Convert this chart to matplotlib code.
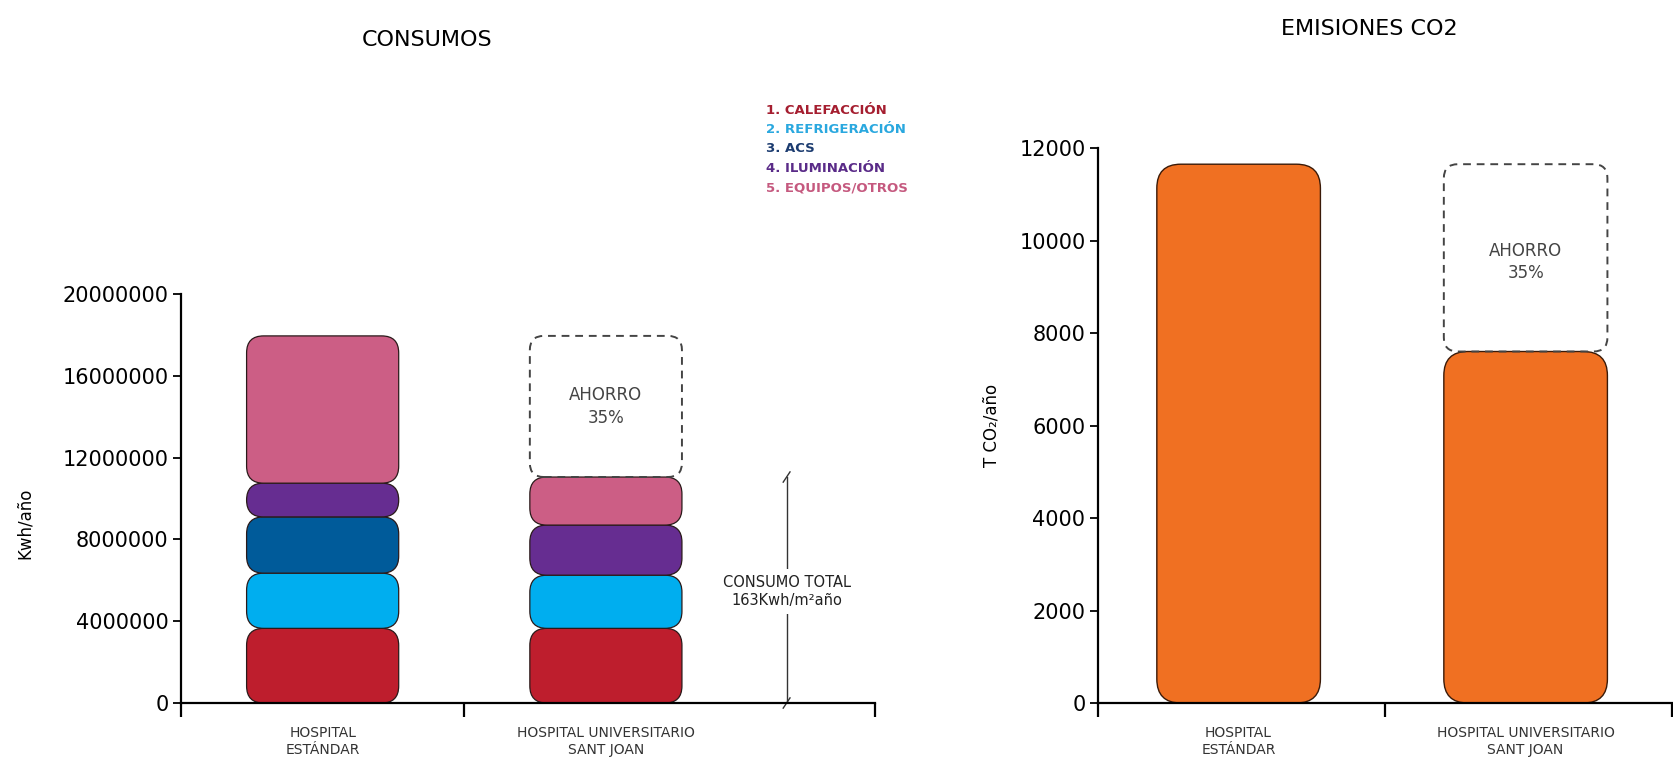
import numpy as np
import matplotlib
matplotlib.use("Agg")
import matplotlib.pyplot as plt
from matplotlib.patches import FancyBboxPatch
from matplotlib.ticker import FuncFormatter

plt.rcParams['font.family'] = ['DejaVu Sans']

# consumos (kWh/año) por uso
hospitales = ["HOSPITAL\nESTÁNDAR", "HOSPITAL UNIVERSITARIO\nSANT JOAN"]
usos = ["1. CALEFACCIÓN", "2. REFRIGERACIÓN", "3. ACS", "4. ILUMINACIÓN", "5. EQUIPOS/OTROS"]
calefaccion = [3650000, 3650000]
refrigeracion = [2700000, 2600000]
acs = [2750000, 0]
iluminacion = [1650000, 2450000]
equipos = [7200000, 2350000]

# emisiones (T CO2/año)
emisiones = [11650, 7600]
ahorro = "AHORRO\n35%"
consumo_total = "CONSUMO TOTAL\n163Kwh/m²año"

colores = ["#BE1E2D", "#00AEEF", "#005B9A", "#662D91", "#CC5E85"]
colores_txt = ["#A51E30", "#2AA8DF", "#1C3C70", "#5A2B88", "#C5597F"]
naranja = "#F07022"

W, H = 1673, 761
fig = plt.figure(figsize=(W / 100, H / 100), dpi=100)
ax1 = fig.add_axes([0.1082, 0.0762, 0.4148, 0.5375])
ax2 = fig.add_axes([0.6563, 0.0762, 0.3431, 0.7293])

ax1.set_xlim(0, 2.45)
ax1.set_ylim(0, 20000000)
ax2.set_xlim(0, 2.0)
ax2.set_ylim(0, 12000)


def redondear(ax, bars, radio_px, dashed=False, **kw):
    # swap the plain rectangles for rounded ones, radius given in pixels
    (x0, y0), (x1, y1) = ax.transData.transform([(0, 0), (1, 1)])
    sx, sy = x1 - x0, y1 - y0
    for rect in bars:
        w, h = rect.get_width(), rect.get_height()
        if h <= 0:
            rect.remove()
            continue
        r_px = min(radio_px, h * sy / 2, w * sx / 2)
        p = FancyBboxPatch((rect.get_x(), rect.get_y()), w, h,
                           boxstyle=f"round,pad=0,rounding_size={r_px / sx}",
                           mutation_aspect=sx / sy, **kw)
        if dashed:
            p.set_linestyle((0, (4, 3)))
        ax.add_patch(p)
        rect.remove()


# --- consumos ---
x1 = np.arange(len(hospitales)) + 0.5
ancho1 = 0.537
series = [calefaccion, refrigeracion, acs, iluminacion, equipos]
base = np.zeros(len(hospitales))
for vals, c in zip(series, colores):
    bars = ax1.bar(x1, vals, ancho1, bottom=base)
    redondear(ax1, bars, 17, facecolor=c, edgecolor="#2a1a1a", linewidth=0.9)
    base = base + np.array(vals)

total = base
bars = ax1.bar([x1[1]], [total[0] - total[1]], ancho1, bottom=[total[1]])
redondear(ax1, bars, 14, dashed=True, facecolor="none", edgecolor="#444444", linewidth=1.4)
ax1.text(x1[1], total[1] + (total[0] - total[1]) * 0.5, ahorro, ha="center", va="center",
         fontsize=12, color="#444444", linespacing=1.3)

# cota del consumo total
xc = 2.138
ax1.plot([xc, xc], [0, total[1]], color="#333333", lw=1.0)
ax1.plot([xc - 0.012, xc + 0.012], [total[1] - 250000, total[1] + 250000], color="#333333", lw=1.0)
ax1.plot([xc - 0.012, xc + 0.012], [-250000, 250000], color="#333333", lw=1.0, clip_on=False)
ax1.text(xc, 5450000, consumo_total, ha="center", va="center", fontsize=10.5,
         color="#222222", linespacing=1.3,
         bbox=dict(facecolor="white", edgecolor="none", pad=4))

ax1.set_yticks([0, 4000000, 8000000, 12000000, 16000000, 20000000])
fig.text(25 / W, 1 - 523 / H, "Kwh/año", rotation=90, fontsize=12, ha="center", va="center")
fig.text(427 / W, 1 - 40 / H, "CONSUMOS", fontsize=16, ha="center", va="center")

for i, (u, c) in enumerate(zip(usos, colores_txt)):
    fig.text(766 / W, 1 - (110 + i * 19.5) / H, u, color=c, fontsize=9.5,
             fontweight="bold", va="center", ha="left")

# --- emisiones ---
x2 = np.arange(len(hospitales)) + 0.49
ancho2 = 0.57
bars = ax2.bar(x2, emisiones, ancho2)
redondear(ax2, bars, 24, facecolor=naranja, edgecolor="#3a1a08", linewidth=1.0)
bars = ax2.bar([x2[1]], [emisiones[0] - emisiones[1]], ancho2, bottom=[emisiones[1]])
redondear(ax2, bars, 14, dashed=True, facecolor="none", edgecolor="#444444", linewidth=1.4)
ax2.text(x2[1], emisiones[1] + (emisiones[0] - emisiones[1]) * 0.48, ahorro, ha="center",
         va="center", fontsize=12, color="#444444", linespacing=1.3)

ax2.set_yticks([0, 2000, 4000, 6000, 8000, 10000, 12000])
fig.text(992 / W, 1 - 425 / H, "T CO₂/año", rotation=90, fontsize=12, ha="center", va="center")
fig.text(1369 / W, 1 - 29 / H, "EMISIONES CO2", fontsize=16, ha="center", va="center")

# axes styling shared by both charts
for ax, xend, cx in [(ax1, 2.45, x1), (ax2, 2.0, x2)]:
    for s in ["top", "right"]:
        ax.spines[s].set_visible(False)
    ax.spines["left"].set_linewidth(1.6)
    ax.spines["bottom"].set_linewidth(1.6)
    ax.yaxis.set_major_formatter(FuncFormatter(lambda v, p: f"{v:.0f}"))
    ax.tick_params(axis="y", labelsize=15, length=6, width=1.3, pad=3)
    ax.set_xticks([0, 1, xend])
    ax.set_xticklabels([])
    ax.tick_params(axis="x", length=10, width=1.6)
    for xi, lab in zip(cx, hospitales):
        ax.annotate(lab, (xi, 0), xycoords=("data", "axes fraction"),
                    xytext=(0, -16.5), textcoords="offset points", ha="center", va="top",
                    fontsize=10, color="#333333", linespacing=1.3, annotation_clip=False)

fig.savefig("out.png", dpi=100)
